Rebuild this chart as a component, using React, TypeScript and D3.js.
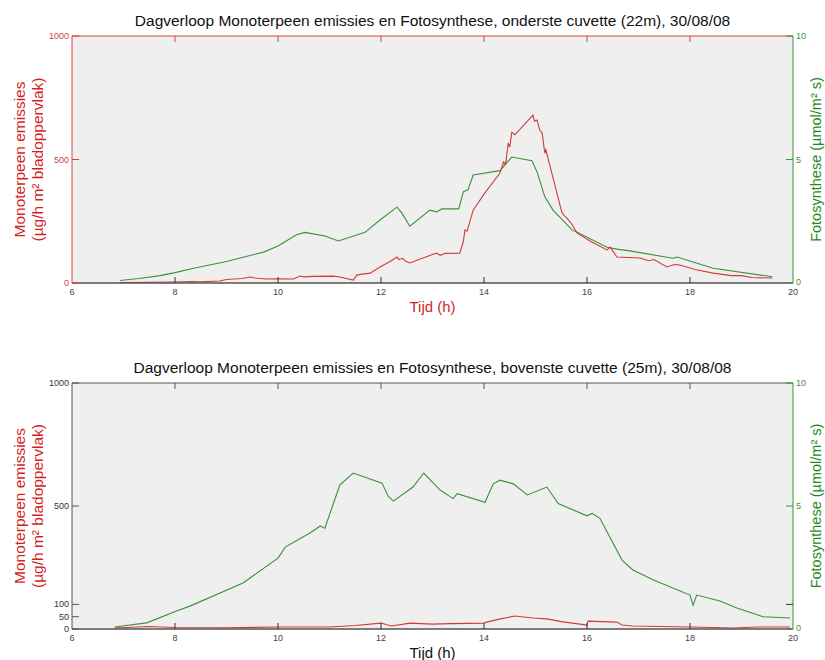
import React, {useRef, useEffect} from 'react';
import * as d3 from 'd3';

// bovenste grafiek: onderste cuvette (22m)
const hoursOnderEm = [6.93,7.5,7.97,8.3,8.5,8.87,9.0,9.3,9.46,9.55,9.78,10.0,10.3,10.43,10.5,10.7,11.07,11.2,11.46,11.53,11.6,11.79,11.98,12.2,12.31,12.35,12.42,12.48,12.56,12.8,13.0,13.08,13.15,13.25,13.53,13.6,13.63,13.67,13.79,14.0,14.31,14.38,14.42,14.47,14.5,14.54,14.6,14.95,14.98,15.03,15.08,15.13,15.18,15.2,15.51,15.55,15.61,15.7,15.81,16.1,16.39,16.45,16.58,17.03,17.2,17.3,17.55,17.7,17.8,18.1,18.45,18.8,19.0,19.2,19.6];
const emOnder = [2,3,4,6,5,8,14,18,24,20,16,17,16,28,25,27,28,24,12,32,35,40,65,90,105,95,100,88,81,100,115,121,112,120,121,170,215,210,295,360,445,490,480,567,550,611,600,680,655,660,620,607,526,540,287,275,263,240,202,165,134,145,105,101,90,95,65,75,73,55,40,30,30,22,20];
const hoursOnderFs = [6.93,7.3,7.71,8.0,8.36,9.0,9.72,10.0,10.36,10.52,10.91,11.17,11.69,11.98,12.31,12.4,12.56,12.95,13.08,13.18,13.51,13.6,13.69,13.79,14.31,14.54,14.93,15.03,15.18,15.34,15.71,15.81,16.39,16.58,16.83,17.67,17.75,18.45,19.6];
const fsOnder = [0.1,0.18,0.3,0.42,0.6,0.87,1.25,1.5,1.95,2.05,1.9,1.7,2.05,2.55,3.07,2.85,2.3,2.95,2.88,3.0,3.0,3.7,3.77,4.37,4.55,5.1,4.95,4.5,3.5,2.95,2.15,2.05,1.45,1.37,1.3,1.0,1.05,0.6,0.25];

// onderste grafiek: bovenste cuvette (25m)
const hoursBovenEm = [6.83,7.5,8.0,9.0,10.0,11.0,11.5,12.0,12.2,12.56,13.0,13.34,14.0,14.05,14.3,14.6,14.95,15.22,15.5,16.0,16.02,16.3,16.58,16.68,16.89,18.0,18.84,19.3,19.94];
const emBoven = [4,10,6,5,8,8,14,24,12,24,20,22,24,28,40,53,45,41,30,16,32,30,28,16,12,8,4,8,8];
const hoursBovenFs = [6.83,7.45,8.03,8.29,9.32,10.0,10.14,10.62,10.82,10.91,11.2,11.46,12.02,12.14,12.24,12.62,12.83,13.15,13.4,13.48,14.02,14.18,14.31,14.57,14.84,15.22,15.44,16.0,16.1,16.25,16.68,16.89,17.28,18.0,18.06,18.13,18.58,18.91,19.42,19.94];
const fsBoven = [0.08,0.25,0.73,0.93,1.87,2.88,3.33,3.9,4.19,4.1,5.85,6.34,5.93,5.4,5.2,5.77,6.34,5.65,5.3,5.5,5.15,5.9,6.05,5.9,5.45,5.77,5.1,4.6,4.7,4.5,2.8,2.4,2.0,1.38,0.97,1.38,1.14,0.85,0.5,0.45];

const xTicks = [6,8,10,12,14,16,18,20];
const leftTicksOnder = [0,500,1000];
const leftTicksBoven = [0,50,100,500,1000];
const rightTicks = [0,5,10];

const titleOnder = 'Dagverloop Monoterpeen emissies en Fotosynthese, onderste cuvette (22m), 30/08/08';
const titleBoven = 'Dagverloop Monoterpeen emissies en Fotosynthese, bovenste cuvette (25m), 30/08/08';

const RED = '#d23a3a';
const GREEN = '#3a913a';
const LBL_RED = '#d41f1f';
const LBL_GREEN = '#1f8a1f';
const AXIS = '#555555';

export default function App(){
    const ref = useRef<SVGSVGElement>(null);
    const width = 825, height = 660;
    const margin = {left: 72, right: 32};
    const plotW = width - margin.left - margin.right;

    useEffect(() => {
        const svg = d3.select(ref.current);
        svg.selectAll('*').remove();
        const font = 'Arial, "Liberation Sans", sans-serif';

        const drawPanel = (top: number, h: number, cfg: any) => {
            const g = svg.append('g').attr('transform', `translate(${margin.left},${top})`);
            const x = d3.scaleLinear().domain([6, 20]).range([0, plotW]);
            const yL = d3.scaleLinear().domain([0, 1000]).range([h, 0]);
            const yR = d3.scaleLinear().domain([0, 10]).range([h, 0]);

            g.append('rect').attr('width', plotW).attr('height', h).attr('fill', '#efefef');

            // lijnen
            const lineL = d3.line<number>().x((d, i) => x(cfg.hoursEm[i])).y(d => yL(d));
            const lineR = d3.line<number>().x((d, i) => x(cfg.hoursFs[i])).y(d => yR(d));
            g.append('path').datum(cfg.fs).attr('d', lineR).attr('fill', 'none')
                .attr('stroke', GREEN).attr('stroke-width', 1.1);
            g.append('path').datum(cfg.em).attr('d', lineL).attr('fill', 'none')
                .attr('stroke', RED).attr('stroke-width', 1.1);

            // x-as onder
            g.append('line').attr('x1', 0).attr('x2', plotW).attr('y1', h).attr('y2', h)
                .attr('stroke', AXIS).attr('stroke-width', 1.5);
            // kader boven
            g.append('line').attr('x1', 0).attr('x2', plotW).attr('y1', 0).attr('y2', 0)
                .attr('stroke', cfg.frameColor).attr('stroke-width', 1);
            xTicks.forEach(t => {
                if (t > 6 && t < 20) {
                    g.append('line').attr('x1', x(t)).attr('x2', x(t)).attr('y1', h).attr('y2', h - 6)
                        .attr('stroke', '#333');
                    g.append('line').attr('x1', x(t)).attr('x2', x(t)).attr('y1', 0).attr('y2', 6)
                        .attr('stroke', cfg.frameColor);
                }
                g.append('text').attr('x', x(t)).attr('y', h + 12).attr('text-anchor', 'middle')
                    .attr('font-size', 9).attr('fill', '#444').attr('font-family', font).text(t);
            });

            // linker as
            g.append('line').attr('x1', 0).attr('x2', 0).attr('y1', 0).attr('y2', h)
                .attr('stroke', cfg.frameColor);
            cfg.leftTicks.forEach((t: number) => {
                g.append('line').attr('x1', 0).attr('x2', 7).attr('y1', yL(t)).attr('y2', yL(t))
                    .attr('stroke', cfg.frameColor);
                g.append('text').attr('x', -3).attr('y', yL(t) + 3).attr('text-anchor', 'end')
                    .attr('font-size', 9).attr('fill', cfg.leftTickColor).attr('font-family', font).text(t);
            });

            // rechter as
            g.append('line').attr('x1', plotW).attr('x2', plotW).attr('y1', 0).attr('y2', h)
                .attr('stroke', GREEN);
            cfg.rightTicks.forEach((t: number) => {
                g.append('line').attr('x1', plotW).attr('x2', plotW - 7).attr('y1', yR(t)).attr('y2', yR(t))
                    .attr('stroke', t === 1 ? '#333' : GREEN);
                if (t !== 1) {
                    g.append('text').attr('x', plotW + 3).attr('y', yR(t) + (t === 0 ? 1.5 : 3))
                        .attr('font-size', 9).attr('fill', GREEN).attr('font-family', font).text(t);
                }
            });

            // titel
            g.append('text').attr('x', plotW / 2).attr('y', -10).attr('text-anchor', 'middle')
                .attr('font-size', 15.5).attr('fill', '#111').attr('font-family', font).text(cfg.title);

            // x-label
            g.append('text').attr('x', plotW / 2).attr('y', h + 29).attr('text-anchor', 'middle')
                .attr('font-size', 15).attr('fill', cfg.xLabelColor).attr('font-family', font).text('Tijd (h)');

            // y-labels
            const yl = g.append('text').attr('transform', `translate(-47,${h / 2}) rotate(-90)`)
                .attr('text-anchor', 'middle').attr('font-size', 15.5).attr('fill', LBL_RED).attr('font-family', font);
            yl.append('tspan').attr('x', 0).attr('dy', 0).text('Monoterpeen emissies');
            yl.append('tspan').attr('x', 0).attr('dy', 18).text('(µg/h m² bladoppervlak)');

            g.append('text').attr('transform', `translate(${plotW + 28},${h / 2}) rotate(-90)`)
                .attr('text-anchor', 'middle').attr('font-size', 14.5).attr('fill', LBL_GREEN)
                .attr('font-family', font).text('Fotosynthese (µmol/m² s)');
        };

        drawPanel(36, 247, {
            hoursEm: hoursOnderEm, em: emOnder, hoursFs: hoursOnderFs, fs: fsOnder,
            leftTicks: leftTicksOnder, rightTicks: rightTicks, title: titleOnder,
            frameColor: '#d04545', leftTickColor: '#c44', xLabelColor: LBL_RED
        });
        drawPanel(383, 246, {
            hoursEm: hoursBovenEm, em: emBoven, hoursFs: hoursBovenFs, fs: fsBoven,
            leftTicks: leftTicksBoven, rightTicks: [0, 1, 5, 10], title: titleBoven,
            frameColor: '#555', leftTickColor: '#333', xLabelColor: '#111'
        });
    }, []);

    return (
        <div style={{position: 'absolute', left: 0, top: 0}}>
            <svg ref={ref} width={width} height={height} style={{display: 'block', background: '#fff'}} />
        </div>
    );
}
